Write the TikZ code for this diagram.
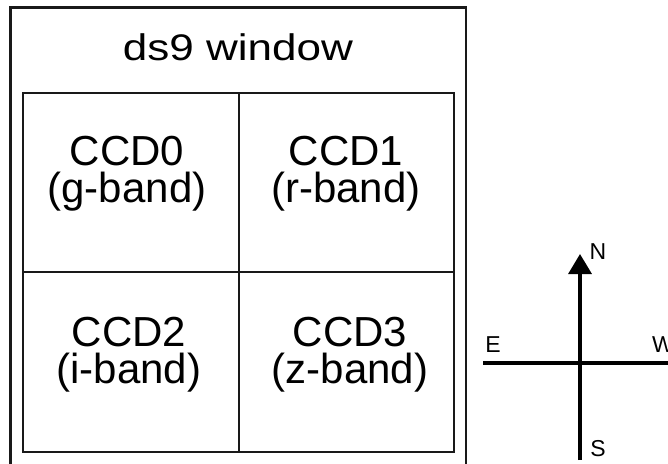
\documentclass[tikz,border=0pt]{standalone}
\usepackage{fontspec}
\setmainfont{Liberation Sans}
\usetikzlibrary{arrows.meta}
\begin{document}
\begin{tikzpicture}[x=1pt,y=-1pt,
  boxline/.style={draw=black!90,line width=2.4pt},
  compline/.style={draw=black,line width=3.4pt},
  ccdtext/.style={inner sep=0pt,anchor=center,align=center,font=\fontsize{42}{37}\selectfont},
  dirtext/.style={inner sep=0pt,anchor=base,font=\fontsize{23}{23}\selectfont}]
\clip (0,0) rectangle (668,463);
\fill[white] (0,0) rectangle (668,463);
% outer window
\draw[boxline] (10.5,480) -- (10.5,7.5) -- (466,7.5) -- (466,480);
\node[inner sep=0pt,anchor=base,font=\fontsize{37}{37}\selectfont,xscale=1.19] (title) at (238,60) {ds9 window};
% inner CCD grid
\draw[boxline] (23,93) rectangle (454,452);
\draw[boxline] (239,93) -- (239,452);
\draw[boxline] (23,272) -- (454,272);
\node[ccdtext] (c0) at (127,173.6) {CCD0\\(g-band)};
\node[ccdtext] (c1) at (346,173.6) {CCD1\\(r-band)};
\node[ccdtext] (c2) at (129,354.6) {CCD2\\(i-band)};
\node[ccdtext] (c3) at (350,354.6) {CCD3\\(z-band)};
% compass
\coordinate (ctop) at (580,254);
\coordinate (cbot) at (580,460);
\coordinate (cleft) at (483,363);
\coordinate (cright) at (672,363);
\draw[compline,-{Triangle[length=20pt,width=23pt]}] (cbot) -- (ctop);
\draw[compline] (cleft) -- (cright);
\node[dirtext] (N) at (598,259) {N};
\node[dirtext] (E) at (493,352) {E};
\node[dirtext] (W) at (663,352) {W};
\node[dirtext] (S) at (598,456) {S};
\end{tikzpicture}
\end{document}
